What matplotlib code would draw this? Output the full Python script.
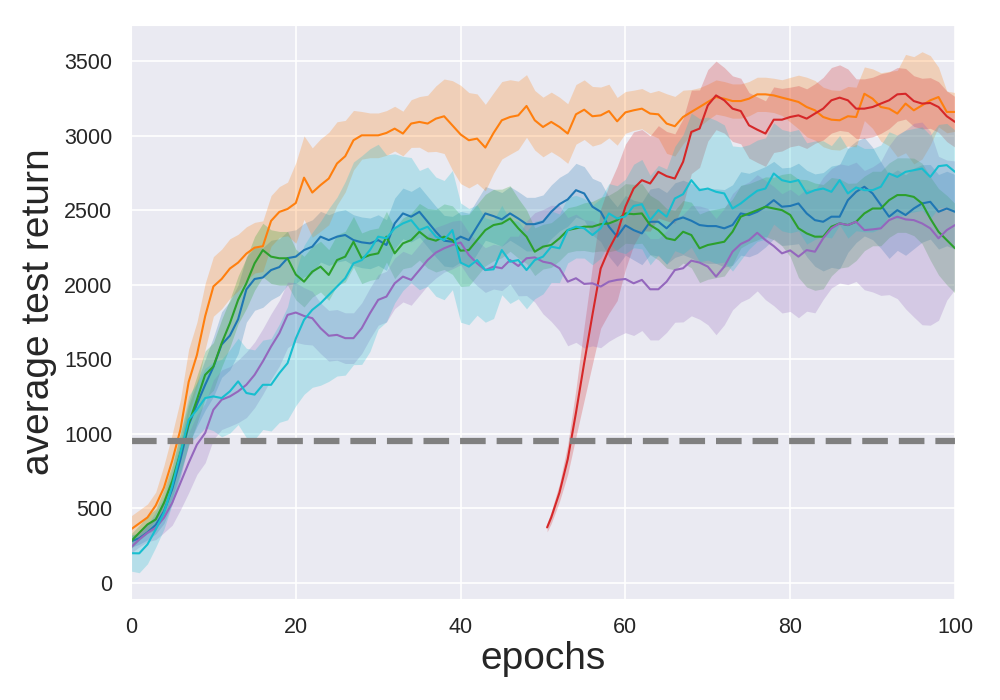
"""Average test return vs. training epochs, six runs with shaded spread and a baseline."""

import matplotlib

matplotlib.use("Agg")
import matplotlib.pyplot as plt
import numpy as np
import seaborn as sns

EPOCHS = np.arange(0, 101)
RED_EPOCHS = np.r_[50.5, np.arange(51, 101)]
BASELINE = 950

# mean curves (one value per epoch)
BLUE = [280, 300, 340, 390, 480, 630, 830, 1060, 1200, 1330,
        1450, 1600, 1660, 1770, 1970, 2040, 2050, 2100, 2120, 2180,
        2190, 2234, 2257, 2324, 2301, 2324, 2335, 2301, 2286, 2279,
        2301, 2268, 2413, 2480, 2458, 2491, 2424, 2357, 2297, 2290,
        2324, 2301, 2391, 2480, 2462, 2440, 2480, 2446, 2408, 2408,
        2424, 2491, 2542, 2574, 2636, 2614, 2525, 2491, 2391, 2324,
        2400, 2368, 2346, 2424, 2424, 2380, 2435, 2453, 2431, 2402,
        2395, 2395, 2380, 2402, 2480, 2469, 2491, 2525, 2569, 2525,
        2530, 2547, 2480, 2435, 2424, 2458, 2458, 2569, 2625, 2659,
        2614, 2536, 2458, 2502, 2469, 2513, 2547, 2558, 2491, 2513,
        2491]
ORANGE = [360, 400, 440, 520, 640, 820, 1030, 1350, 1530, 1790,
          1990, 2040, 2110, 2150, 2210, 2250, 2260, 2430, 2490, 2510,
          2550, 2720, 2620, 2670, 2714, 2815, 2864, 2971, 3004, 3004,
          3004, 3020, 3049, 3016, 3083, 3094, 3083, 3116, 3132, 3071,
          3010, 2971, 2982, 2922, 3020, 3105, 3127, 3138, 3201, 3105,
          3060, 3094, 3060, 3016, 3145, 3176, 3132, 3138, 3167, 3098,
          3158, 3172, 3183, 3150, 3145, 3083, 3065, 3127, 3161, 3194,
          3228, 3261, 3250, 3234, 3234, 3250, 3279, 3279, 3272, 3257,
          3243, 3228, 3194, 3172, 3127, 3109, 3105, 3132, 3127, 3283,
          3250, 3194, 3183, 3150, 3217, 3172, 3205, 3239, 3261, 3161,
          3161]
GREEN = [280, 337, 393, 426, 538, 683, 873, 1070, 1230, 1397,
         1453, 1609, 1743, 1900, 2011, 2145, 2234, 2190, 2179, 2179,
         2070, 2022, 2089, 2123, 2067, 2167, 2190, 2290, 2179, 2201,
         2212, 2324, 2212, 2279, 2301, 2357, 2313, 2297, 2324, 2301,
         2230, 2234, 2301, 2368, 2402, 2413, 2446, 2380, 2324, 2223,
         2257, 2268, 2313, 2368, 2380, 2391, 2391, 2408, 2413, 2435,
         2480, 2475, 2480, 2402, 2368, 2313, 2301, 2357, 2335, 2246,
         2268, 2279, 2290, 2357, 2458, 2480, 2502, 2525, 2513, 2502,
         2470, 2380, 2346, 2324, 2324, 2391, 2413, 2402, 2424, 2480,
         2513, 2513, 2569, 2603, 2603, 2591, 2547, 2446, 2357, 2301,
         2246]
RED = [373,
       440, 607, 830, 1142, 1477, 1800, 2110, 2240, 2345, 2525,
       2647, 2703, 2681, 2759, 2730, 2714, 2826, 3027, 3049, 3205,
       3272, 3239, 3183, 3167, 3071, 3042, 3016, 3109, 3109, 3127,
       3138, 3116, 3150, 3183, 3239, 3257, 3239, 3183, 3183, 3194,
       3217, 3239, 3279, 3283, 3234, 3217, 3221, 3194, 3132, 3094]
PURPLE = [240, 292, 337, 371, 438, 538, 672, 806, 929, 1007,
          1163, 1230, 1252, 1286, 1330, 1397, 1487, 1587, 1676, 1799,
          1815, 1792, 1777, 1710, 1659, 1665, 1643, 1643, 1710, 1810,
          1900, 1922, 2011, 2056, 2034, 2100, 2167, 2217, 2246, 2268,
          2285, 2201, 2145, 2100, 2123, 2112, 2167, 2127, 2179, 2185,
          2156, 2145, 2112, 2022, 2045, 2007, 2011, 1989, 2022, 2034,
          2040, 2011, 2034, 1971, 1971, 2022, 2100, 2112, 2163, 2150,
          2123, 2056, 2123, 2223, 2275, 2301, 2350, 2301, 2261, 2212,
          2232, 2190, 2234, 2223, 2313, 2380, 2413, 2402, 2424, 2368,
          2373, 2380, 2435, 2458, 2440, 2435, 2413, 2380, 2313, 2368,
          2402]
CYAN = [200, 199, 259, 360, 471, 650, 873, 1096, 1163, 1241,
        1252, 1241, 1286, 1353, 1275, 1264, 1330, 1330, 1408, 1475,
        1640, 1766, 1833, 1877, 1933, 1989, 2045, 2145, 2167, 2234,
        2324, 2313, 2380, 2413, 2435, 2368, 2391, 2324, 2301, 2368,
        2150, 2123, 2167, 2100, 2105, 2234, 2156, 2167, 2100, 2167,
        2190, 2257, 2246, 2368, 2391, 2380, 2335, 2380, 2480, 2446,
        2460, 2530, 2542, 2435, 2502, 2458, 2580, 2609, 2703, 2636,
        2647, 2625, 2614, 2513, 2547, 2591, 2632, 2647, 2748, 2703,
        2690, 2703, 2614, 2636, 2647, 2625, 2703, 2614, 2654, 2636,
        2636, 2659, 2748, 2725, 2759, 2770, 2781, 2725, 2797, 2804,
        2759]

# half-width of the shaded band around each mean
BLUE_SPREAD = [40, 40, 50, 60, 80, 100, 120, 130, 150, 170,
               200, 220, 230, 230, 220, 210, 200, 200, 190, 180,
               180, 180, 180, 170, 170, 170, 170, 170, 170, 170,
               170, 170, 170, 170, 170, 170, 170, 170, 170, 170,
               170, 180, 180, 180, 180, 180, 180, 180, 180, 180,
               180, 180, 180, 180, 180, 180, 190, 200, 200, 200,
               200, 200, 210, 220, 230, 240, 250, 250, 250, 250,
               250, 250, 260, 270, 280, 280, 280, 270, 260, 260,
               260, 270, 290, 310, 330, 340, 350, 350, 340, 330,
               310, 290, 280, 270, 270, 270, 260, 250, 250, 250,
               250]
ORANGE_SPREAD = [90, 90, 90, 90, 150, 180, 200, 220, 220, 220,
                 200, 200, 200, 190, 180, 170, 170, 170, 170, 180,
                 270, 280, 300, 310, 310, 280, 240, 200, 160, 150,
                 150, 150, 150, 150, 160, 170, 190, 220, 250, 300,
                 330, 320, 300, 290, 270, 260, 250, 230, 210, 200,
                 200, 200, 200, 200, 200, 200, 200, 190, 180, 160,
                 140, 135, 135, 140, 160, 200, 200, 180, 150, 130,
                 120, 115, 115, 115, 115, 115, 115, 115, 115, 120,
                 150, 180, 200, 200, 200, 200, 200, 200, 200, 180,
                 200, 230, 250, 290, 330, 360, 360, 300, 200, 140,
                 130]
GREEN_SPREAD = [50, 50, 60, 70, 90, 110, 130, 150, 160, 160,
                160, 160, 160, 160, 170, 180, 180, 180, 180, 180,
                170, 170, 170, 170, 170, 170, 170, 170, 170, 170,
                170, 170, 170, 170, 180, 190, 200, 210, 220, 230,
                240, 240, 240, 240, 240, 230, 220, 200, 180, 160,
                150, 150, 150, 150, 150, 160, 170, 180, 190, 200,
                200, 200, 200, 200, 200, 200, 200, 210, 220, 230,
                230, 230, 230, 220, 210, 200, 200, 200, 210, 240,
                280, 330, 360, 360, 350, 330, 300, 280, 260, 250,
                250, 250, 250, 250, 250, 260, 270, 280, 290, 300,
                300]
RED_SPREAD = [30,
              40, 60, 100, 160, 250, 330, 400, 430, 450, 420,
              380, 340, 320, 310, 300, 300, 290, 280, 260, 240,
              230, 220, 220, 220, 220, 220, 220, 220, 210, 200,
              200, 200, 200, 210, 220, 220, 210, 200, 200, 200,
              200, 190, 180, 170, 170, 170, 170, 170, 170, 170]
PURPLE_SPREAD = [40, 50, 60, 80, 100, 150, 180, 200, 200, 200,
                 200, 200, 200, 210, 220, 220, 220, 220, 220, 220,
                 200, 190, 180, 170, 170, 170, 170, 170, 170, 170,
                 170, 170, 170, 170, 170, 170, 170, 170, 160, 160,
                 150, 150, 150, 150, 150, 150, 160, 200, 250, 300,
                 350, 390, 420, 430, 430, 430, 420, 410, 400, 380,
                 360, 350, 340, 340, 340, 340, 350, 360, 370, 380,
                 390, 390, 390, 390, 390, 390, 390, 400, 400, 400,
                 410, 410, 410, 410, 410, 400, 400, 400, 400, 400,
                 420, 450, 500, 550, 600, 650, 680, 650, 550, 470,
                 430]
CYAN_SPREAD = [120, 130, 130, 120, 110, 120, 140, 160, 180, 200,
               230, 260, 280, 290, 300, 300, 300, 310, 330, 380,
               450, 500, 520, 550, 580, 600, 650, 680, 700, 680,
               620, 560, 500, 450, 420, 400, 400, 400, 400, 400,
               400, 390, 370, 350, 330, 300, 280, 260, 260, 260,
               250, 240, 230, 220, 210, 200, 200, 200, 200, 220,
               250, 280, 300, 300, 300, 320, 350, 400, 450, 480,
               480, 480, 460, 420, 380, 350, 340, 340, 340, 340,
               340, 340, 340, 330, 320, 310, 300, 300, 290, 280,
               280, 280, 280, 280, 280, 280, 280, 280, 280, 280,
               280]

SERIES = [
    (EPOCHS, BLUE, BLUE_SPREAD, "tab:blue"),
    (EPOCHS, ORANGE, ORANGE_SPREAD, "tab:orange"),
    (EPOCHS, GREEN, GREEN_SPREAD, "tab:green"),
    (RED_EPOCHS, RED, RED_SPREAD, "tab:red"),
    (EPOCHS, PURPLE, PURPLE_SPREAD, "tab:purple"),
    (EPOCHS, CYAN, CYAN_SPREAD, "tab:cyan"),
]


def main() -> None:
    sns.set_style("darkgrid")
    plt.rcParams["font.family"] = ["Liberation Sans", "DejaVu Sans"]
    plt.rcParams["grid.linewidth"] = 1.2

    fig = plt.figure(figsize=(10, 7), dpi=100)
    ax = fig.add_axes([0.131, 0.145, 0.824, 0.819])

    for x, mean, spread, color in SERIES:
        mean = np.asarray(mean, dtype=float)
        spread = np.asarray(spread, dtype=float)
        ax.fill_between(x, mean - spread, mean + spread, color=color,
                        alpha=0.25, linewidth=0)
        ax.plot(x, mean, color=color, lw=1.5)

    ax.axhline(BASELINE, color="gray", lw=4.5, ls=(0, (4.1, 1.75)))

    ax.set_xlim(0, 100)
    ax.set_ylim(-104, 3743)
    ax.set_xticks(np.arange(0, 101, 20))
    ax.set_yticks(np.arange(0, 3501, 500))
    ax.tick_params(axis="both", labelsize=15.5, pad=10, colors=".15")
    ax.set_xlabel("epochs", fontsize=28, color=".15", labelpad=2)
    ax.set_ylabel("average test return", fontsize=28, color=".15", labelpad=5)

    fig.savefig("out.png", facecolor="white")
    plt.close(fig)


if __name__ == "__main__":
    main()
